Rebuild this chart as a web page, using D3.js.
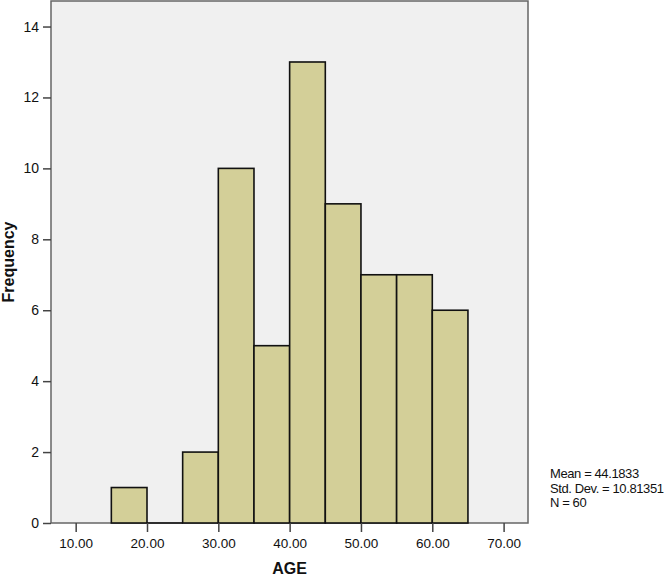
<!DOCTYPE html>
<html>
<head>
<meta charset="utf-8">
<script src="https://cdn.jsdelivr.net/npm/d3@7.9.0/dist/d3.min.js"></script>
<style>
  body { margin: 0; background: #fff; }
  svg text { font-family: Arial, "Liberation Sans", sans-serif; fill: #111; }
</style>
</head>
<body>
<svg id="chart" width="666" height="577"></svg>
<script>
/* ---------- Data ---------- */
const binStarts = [15, 20, 25, 30, 35, 40, 45, 50, 55, 60];
const binWidth = 5;
const counts = [1, 0, 2, 10, 5, 13, 9, 7, 7, 6];
const xTicks = [10, 20, 30, 40, 50, 60, 70];
const yTicks = [0, 2, 4, 6, 8, 10, 12, 14];
const statLines = ["Mean = 44.1833", "Std. Dev. = 10.81351", "N = 60"];

/* ---------- Layout ---------- */
const svg = d3.select('#chart');
const plot = { left: 51, top: 1, right: 528, bottom: 523 };

const x = d3.scaleLinear().domain([6.54, 73.42]).range([plot.left, plot.right]);
const y = d3.scaleLinear().domain([0, 14.72]).range([plot.bottom, plot.top]);

// background panel
svg.append('rect')
  .attr('x', plot.left).attr('y', plot.top)
  .attr('width', plot.right - plot.left).attr('height', plot.bottom - plot.top)
  .attr('fill', '#f0f0f0')
  .attr('stroke', '#666').attr('stroke-width', 1.5);

// bars
const bars = binStarts.map((b, i) => ({ x0: b, x1: b + binWidth, n: counts[i] }));
svg.append('g')
  .selectAll('rect')
  .data(bars.filter(d => d.n > 0))
  .enter().append('rect')
  .attr('x', d => x(d.x0))
  .attr('y', d => y(d.n))
  .attr('width', d => x(d.x1) - x(d.x0))
  .attr('height', d => y(0) - y(d.n))
  .attr('fill', '#d3cf98')
  .attr('stroke', '#111')
  .attr('stroke-width', 1.6);

// empty bins show as a flat line on the baseline
svg.append('g')
  .selectAll('line')
  .data(bars.filter(d => d.n === 0))
  .enter().append('line')
  .attr('x1', d => x(d.x0)).attr('x2', d => x(d.x1))
  .attr('y1', y(0)).attr('y2', y(0))
  .attr('stroke', '#111').attr('stroke-width', 1.6);

/* ---------- Axes ---------- */
const yAxis = d3.axisLeft(y).tickValues(yTicks).tickSize(8).tickPadding(4).tickFormat(d3.format('d'));
const gy = svg.append('g').attr('transform', `translate(${plot.left},0)`).call(yAxis);
gy.select('.domain').remove();
gy.selectAll('.tick line').attr('stroke', '#444').attr('stroke-width', 1.5);
gy.selectAll('.tick text').attr('font-size', 14).attr('fill', '#111');

const xAxis = d3.axisBottom(x).tickValues(xTicks).tickSize(9).tickPadding(6).tickFormat(d3.format('.2f'));
const gx = svg.append('g').attr('transform', `translate(0,${plot.bottom})`).call(xAxis);
gx.select('.domain').remove();
gx.selectAll('.tick line').attr('stroke', '#444').attr('stroke-width', 1.5);
gx.selectAll('.tick text').attr('font-size', 13.5).attr('fill', '#111');

/* ---------- Titles ---------- */
svg.append('text')
  .attr('x', (plot.left + plot.right) / 2).attr('y', 574)
  .attr('text-anchor', 'middle')
  .attr('font-size', 16).attr('font-weight', 'bold')
  .text('AGE');

svg.append('text')
  .attr('transform', `translate(14,${(plot.top + plot.bottom) / 2}) rotate(-90)`)
  .attr('text-anchor', 'middle')
  .attr('font-size', 16).attr('font-weight', 'bold')
  .text('Frequency');

/* ---------- Stats box ---------- */
svg.append('g')
  .selectAll('text')
  .data(statLines)
  .enter().append('text')
  .attr('x', 550)
  .attr('y', (d, i) => 478 + i * 14.5)
  .attr('font-size', 13)
  .attr('letter-spacing', -0.4)
  .text(d => d);
</script>
</body>
</html>
